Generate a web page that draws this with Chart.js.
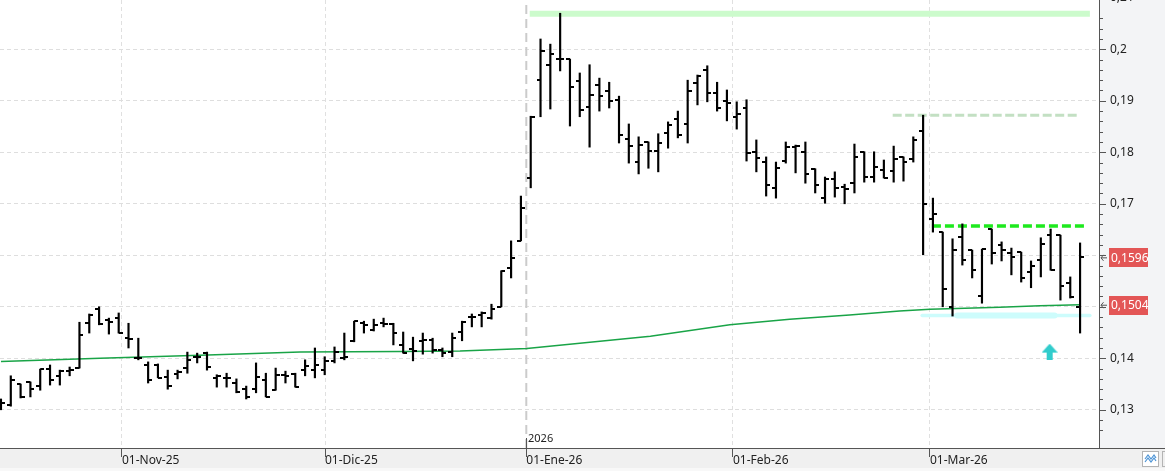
<!DOCTYPE html>
<html><head><meta charset="utf-8">
<script src="https://cdn.jsdelivr.net/npm/chart.js@4.4.1/dist/chart.umd.min.js"></script>
<style>html,body{margin:0;padding:0;background:#fff;overflow:hidden}</style>
</head><body>
<canvas id="c" width="1165" height="471"></canvas>
<script>
// ---- trading days (categories) ----
const dates = [
 '2025-10-15','2025-10-16','2025-10-17','2025-10-20','2025-10-21','2025-10-22','2025-10-23','2025-10-24','2025-10-27','2025-10-28','2025-10-29','2025-10-30','2025-10-31',
 '2025-11-03','2025-11-04','2025-11-05','2025-11-06','2025-11-07','2025-11-10','2025-11-11','2025-11-12','2025-11-13','2025-11-14','2025-11-17','2025-11-18','2025-11-19','2025-11-20','2025-11-21','2025-11-24','2025-11-25','2025-11-26','2025-11-27','2025-11-28',
 '2025-12-01','2025-12-02','2025-12-03','2025-12-04','2025-12-05','2025-12-08','2025-12-09','2025-12-10','2025-12-11','2025-12-12','2025-12-15','2025-12-16','2025-12-17','2025-12-18','2025-12-19','2025-12-22','2025-12-23','2025-12-24','2025-12-29','2025-12-30','2025-12-31',
 '2026-01-02','2026-01-05','2026-01-06','2026-01-07','2026-01-08','2026-01-09','2026-01-12','2026-01-13','2026-01-14','2026-01-15','2026-01-16','2026-01-19','2026-01-20','2026-01-21','2026-01-22','2026-01-23','2026-01-26','2026-01-27','2026-01-28','2026-01-29','2026-01-30',
 '2026-02-02','2026-02-03','2026-02-04','2026-02-05','2026-02-06','2026-02-09','2026-02-10','2026-02-11','2026-02-12','2026-02-13','2026-02-16','2026-02-17','2026-02-18','2026-02-19','2026-02-20','2026-02-23','2026-02-24','2026-02-25','2026-02-26','2026-02-27',
 '2026-03-02','2026-03-03','2026-03-04','2026-03-05','2026-03-06','2026-03-09','2026-03-10','2026-03-11','2026-03-12','2026-03-13','2026-03-16','2026-03-17','2026-03-18','2026-03-19','2026-03-20','2026-03-23'
];
// ---- OHLC series ----
const open = [
 0.1309,0.1309,0.1350,0.1354,0.1346,0.1379,0.1366,0.1375,0.1381,0.1468,
 0.1496,0.1474,0.1478,0.1439,0.1401,0.1387,0.1387,0.1364,0.1370,0.1381,
 0.1403,0.1410,0.1362,0.1362,0.1352,0.1340,0.1340,0.1358,0.1338,0.1368,
 0.1370,0.1377,0.1377,0.1377,0.1395,0.1401,0.1434,0.1468,0.1455,0.1468,
 0.1467,0.1426,0.1418,0.1434,0.1436,0.1416,0.1412,0.1451,0.1480,0.1484,
 0.1478,0.1500,0.1575,0.1628,0.1750,0.1940,0.1969,0.1981,0.1981,0.1938,
 0.1888,0.1931,0.1919,0.1902,0.1826,0.1781,0.1820,0.1802,0.1837,0.1865,
 0.1855,0.1935,0.1960,0.1915,0.1900,0.1869,0.1886,0.1801,0.1781,0.1731,
 0.1783,0.1810,0.1801,0.1768,0.1711,0.1748,0.1733,0.1740,0.1801,0.1752,
 0.1766,0.1764,0.1791,0.1787,0.1841,0.1670,0.1645,0.1500,0.1636,0.1610,
 0.1521,0.1651,0.1620,0.1604,0.1606,0.1568,0.1591,0.1639,0.1639,0.1546,0.1500
];
const high = [
 0.1321,0.1366,0.1350,0.1354,0.1379,0.1387,0.1377,0.1383,0.1470,0.1486,
 0.1500,0.1478,0.1488,0.1468,0.1439,0.1393,0.1389,0.1377,0.1377,0.1412,
 0.1410,0.1412,0.1368,0.1371,0.1360,0.1346,0.1391,0.1371,0.1381,0.1375,
 0.1371,0.1397,0.1420,0.1403,0.1422,0.1449,0.1472,0.1472,0.1476,0.1478,
 0.1468,0.1451,0.1441,0.1449,0.1439,0.1420,0.1449,0.1472,0.1486,0.1490,
 0.1505,0.1570,0.1628,0.1715,0.1870,0.2020,0.2010,0.2070,0.1981,0.1954,
 0.1970,0.1944,0.1936,0.1909,0.1855,0.1830,0.1820,0.1836,0.1859,0.1880,
 0.1940,0.1950,0.1968,0.1936,0.1921,0.1898,0.1902,0.1824,0.1791,0.1781,
 0.1820,0.1814,0.1820,0.1768,0.1752,0.1762,0.1738,0.1816,0.1801,0.1801,
 0.1785,0.1812,0.1791,0.1830,0.1872,0.1711,0.1645,0.1632,0.1661,0.1610,
 0.1612,0.1651,0.1626,0.1614,0.1606,0.1589,0.1634,0.1651,0.1639,0.1558,0.1624
];
const low = [
 0.1300,0.1307,0.1323,0.1325,0.1338,0.1348,0.1348,0.1366,0.1381,0.1449,
 0.1465,0.1447,0.1449,0.1420,0.1397,0.1352,0.1362,0.1340,0.1360,0.1371,
 0.1391,0.1377,0.1344,0.1344,0.1333,0.1321,0.1333,0.1325,0.1338,0.1352,
 0.1344,0.1366,0.1362,0.1368,0.1391,0.1397,0.1432,0.1449,0.1453,0.1461,
 0.1426,0.1410,0.1395,0.1408,0.1410,0.1403,0.1403,0.1434,0.1461,0.1461,
 0.1476,0.1500,0.1556,0.1628,0.1731,0.1869,0.1884,0.1958,0.1851,0.1869,
 0.1810,0.1880,0.1886,0.1818,0.1779,0.1758,0.1769,0.1762,0.1808,0.1828,
 0.1818,0.1892,0.1898,0.1880,0.1861,0.1845,0.1783,0.1762,0.1715,0.1711,
 0.1779,0.1760,0.1740,0.1721,0.1701,0.1713,0.1700,0.1721,0.1742,0.1742,
 0.1750,0.1742,0.1744,0.1781,0.1601,0.1645,0.1500,0.1482,0.1581,0.1556,
 0.1507,0.1583,0.1589,0.1562,0.1548,0.1537,0.1558,0.1571,0.1513,0.1517,0.1449
];
const close = [
 0.1313,0.1358,0.1325,0.1340,0.1379,0.1358,0.1375,0.1377,0.1445,0.1484,
 0.1467,0.1470,0.1449,0.1437,0.1401,0.1358,0.1362,0.1346,0.1373,0.1397,
 0.1403,0.1383,0.1366,0.1362,0.1335,0.1325,0.1364,0.1325,0.1368,0.1366,
 0.1344,0.1385,0.1387,0.1395,0.1412,0.1403,0.1472,0.1465,0.1465,0.1467,
 0.1449,0.1410,0.1414,0.1436,0.1416,0.1410,0.1439,0.1470,0.1480,0.1488,
 0.1496,0.1570,0.1595,0.1692,0.1869,0.1997,0.1991,0.1981,0.1927,0.1882,
 0.1911,0.1909,0.1900,0.1834,0.1812,0.1814,0.1802,0.1818,0.1853,0.1834,
 0.1919,0.1948,0.1915,0.1886,0.1896,0.1874,0.1799,0.1789,0.1737,0.1769,
 0.1810,0.1812,0.1758,0.1737,0.1748,0.1731,0.1729,0.1791,0.1752,0.1771,
 0.1750,0.1787,0.1781,0.1824,0.1700,0.1680,0.1535,0.1610,0.1591,0.1571,
 0.1612,0.1604,0.1610,0.1597,0.1556,0.1579,0.1622,0.1571,0.1540,0.1519,0.1596
];
// ---- moving average (read at points along the line; x = bar index) ----
const maIndex = [0, 10.1, 20.3, 30.5, 40.7, 46.8, 50.9, 53.6, 66.2, 74.3, 80.4, 86.5, 91.6, 94.7, 101.8, 105.9, 110];
const maValue = [0.1394,0.1400,0.1406,0.1412,0.1413,0.1414,0.1417,0.1419,0.1443,0.1465,0.1476,0.1484,0.1492,0.1495,0.1499,0.1502,0.1504];
// ---- axis ticks ----
const monthTickPos = [12.33, 33.03, 53.55, 74.62, 94.70];
const monthTickLabels = ['01-Nov-25','01-Dic-25','01-Ene-26','01-Feb-26','01-Mar-26'];
const yearLabel = '2026';
const yearLinePos = 53.55;
// ---- drawn levels [value, fromIndex, toIndex] ----
const resistanceTop = [0.2069, 53.9, 111.0];
const resistancePale = [0.1872, 90.9, 109.9];
const resistanceGreen = [0.1657, 94.9, 110.8];
const supportCyanThin = [0.1483, 93.9, 111.0];
const supportCyanThick = [0.1483, 97.5, 107.4];
const arrowMark = [106.9, 0.1413];

const Y_MIN = 0.12258, Y_MAX = 0.20957;
const X_MIN = -0.1, X_MAX = 111.93;
const FONT = '"Noto Sans", "Open Sans", sans-serif';

function isMajor(v){ return Math.abs(v*100 - Math.round(v*100)) < 1e-6; }
function isStep(v){ return Math.abs(v*500 - Math.round(v*500)) < 1e-6; }
function fmtAxis(v){ return (+v.toFixed(2)).toString().replace('.', ','); }
function fmt4(v){ return v.toFixed(4).replace('.', ','); }

function tickImg(side){
  const c = document.createElement('canvas'); c.width = 8; c.height = 2;
  const g = c.getContext('2d'); g.fillStyle = '#000';
  if (side === 'L') g.fillRect(0,0,4,2); else g.fillRect(4,0,4,2);
  return c;
}
function arrowImg(){
  const c = document.createElement('canvas'); c.width = 16; c.height = 16;
  const g = c.getContext('2d'); g.fillStyle = '#31cccc';
  g.beginPath(); g.moveTo(8,0); g.lineTo(16,9); g.lineTo(0,9); g.closePath(); g.fill();
  g.fillRect(5,9,6,7);
  return c;
}
function seg(level){ return [{x:level[1], y:level[0]}, {x:level[2], y:level[0]}]; }

const decor = {
  id:'decor',
  beforeDraw(chart){
    const {ctx, width, height, chartArea:a} = chart;
    ctx.save();
    ctx.fillStyle = '#ffffff'; ctx.fillRect(0,0,width,height);
    ctx.fillStyle = '#f3f4f6'; ctx.fillRect(a.right,0,width-a.right,a.bottom);
    ctx.fillStyle = '#f0f0f0'; ctx.fillRect(0,a.bottom,width,height-a.bottom-3);
    ctx.fillStyle = '#f8f8f8'; ctx.fillRect(0,height-3,width,3);
    ctx.restore();
  },
  afterDraw(chart){
    const {ctx, width, chartArea:a} = chart;
    const ys = chart.scales.y, xs = chart.scales.x;
    ctx.save();
    // y tick marks
    ctx.strokeStyle = '#555'; ctx.lineWidth = 1;
    ctx.beginPath();
    ys.ticks.forEach(t => {
      if (!isStep(t.value)) return;
      const py = Math.round(ys.getPixelForValue(t.value)) + 0.5;
      ctx.moveTo(a.right, py); ctx.lineTo(a.right + (isMajor(t.value) ? 7 : 4), py);
    });
    ctx.stroke();
    // partially visible top label
    ctx.fillStyle = '#222'; ctx.font = '12px ' + FONT; ctx.textBaseline = 'middle'; ctx.textAlign = 'left';
    ctx.fillText(fmtAxis(0.21), a.right + 11, ys.getPixelForValue(0.21));
    // full-width bottom axis line
    ctx.strokeStyle = '#555'; ctx.beginPath();
    ctx.moveTo(0, a.bottom + 0.5); ctx.lineTo(width, a.bottom + 0.5); ctx.stroke();
    // year label
    const yx = Math.round(xs.getPixelForValue(yearLinePos)) + 0.5;
    ctx.beginPath(); ctx.moveTo(yx, a.bottom - 10); ctx.lineTo(yx, a.bottom); ctx.stroke();
    ctx.fillStyle = '#222'; ctx.font = '11px ' + FONT;
    ctx.fillText(yearLabel, yx + 1.5, a.bottom - 9);
    // price tags
    const tags = [close[close.length-1], maValue[maValue.length-1]];
    tags.forEach(v => {
      const py = ys.getPixelForValue(v);
      ctx.fillStyle = '#e35656';
      ctx.fillRect(a.right + 10, Math.round(py - 9), 39, 19);
      ctx.fillStyle = '#ffffff'; ctx.font = '12px ' + FONT;
      ctx.fillText(fmt4(v), a.right + 12, py + 1);
      ctx.strokeStyle = '#555'; ctx.lineWidth = 1;
      ctx.beginPath();
      ctx.moveTo(a.right + 2, py + 0.5); ctx.lineTo(a.right + 8, py + 0.5);
      ctx.moveTo(a.right + 4.5, py - 2.5); ctx.lineTo(a.right + 2, py + 0.5); ctx.lineTo(a.right + 4.5, py + 3.5);
      ctx.stroke();
    });
    // small icon box bottom-right
    ctx.fillStyle = '#ffffff'; ctx.strokeStyle = '#b4b4b4';
    ctx.fillRect(1142.5, 451.5, 16, 15); ctx.strokeRect(1142.5, 451.5, 16, 15);
    ctx.strokeRect(1162.5, 451.5, 8, 15);
    ctx.strokeStyle = '#4d94d6'; ctx.lineWidth = 1.2;
    ctx.beginPath();
    ctx.moveTo(1145, 459); ctx.lineTo(1148, 455); ctx.lineTo(1151, 459); ctx.lineTo(1154, 455); ctx.lineTo(1156, 458);
    ctx.moveTo(1145, 462); ctx.lineTo(1148, 458); ctx.lineTo(1151, 462); ctx.lineTo(1154, 458); ctx.lineTo(1156, 461);
    ctx.stroke();
    ctx.restore();
  }
};

const idx = open.map((_, i) => i);
const lineBase = {type:'line', pointRadius:0, borderCapStyle:'butt', tension:0, fill:false};

new Chart(document.getElementById('c'), {
  type:'bar',
  data:{
    datasets:[
      {type:'bar', label:'range', data: idx.map(i => ({x:i, y:[low[i], high[i]]})), backgroundColor:'#000', barThickness:1.5, order:0},
      {type:'scatter', label:'open', data: idx.map(i => ({x:i, y:open[i]})), pointStyle:tickImg('L'), pointRadius:3, order:0},
      {type:'scatter', label:'close', data: idx.map(i => ({x:i, y:close[i]})), pointStyle:tickImg('R'), pointRadius:3, order:0},
      {...lineBase, label:'ma', data: maIndex.map((x,i) => ({x, y:maValue[i]})), borderColor:'#19a447', borderWidth:1.5, order:2},
      {...lineBase, label:'top', data: seg(resistanceTop), borderColor:'#ccfbcc', borderWidth:6, order:3},
      {...lineBase, label:'pale', data: seg(resistancePale), borderColor:'#c3e0c3', borderWidth:3, borderDash:[9,3.5], order:3},
      {...lineBase, label:'green', data: seg(resistanceGreen), borderColor:'#1ee91e', borderWidth:3.5, borderDash:[9,4], order:3},
      {...lineBase, label:'cyanThin', data: seg(supportCyanThin), borderColor:'#cdfcfc', borderWidth:3.5, borderCapStyle:'round', order:3},
      {...lineBase, label:'cyanThick', data: seg(supportCyanThick), borderColor:'#cdfcfc', borderWidth:6, borderCapStyle:'round', order:3},
      {type:'scatter', label:'arrow', data:[{x:arrowMark[0], y:arrowMark[1]}], pointStyle:arrowImg(), pointRadius:8, order:1},
      {...lineBase, label:'year', data:[{x:yearLinePos, y:Y_MIN}, {x:yearLinePos, y:Y_MAX}], borderColor:'#cbcbcb', borderWidth:2, borderDash:[9,5], order:9}
    ]
  },
  options:{
    responsive:false, animation:false, devicePixelRatio:1, events:[],
    layout:{padding:0, autoPadding:false},
    plugins:{legend:{display:false}, tooltip:{enabled:false}},
    scales:{
      x:{type:'linear', min:X_MIN, max:X_MAX, offset:false,
        afterBuildTicks: s => { s.ticks = monthTickPos.map(v => ({value:v})); },
        afterFit: s => { s.height = 23; s.paddingLeft = 0; s.paddingRight = 0; },
        ticks:{callback:(v,i) => monthTickLabels[i], align:'start', maxRotation:0, autoSkip:false, padding:-4, font:{family:FONT, size:12}, color:'#222'},
        grid:{offset:false, color: c => (c.index === 2 ? 'rgba(0,0,0,0)' : '#e0e0e0'), tickLength:9, tickColor:'#555', tickBorderDash:[], tickWidth:1},
        border:{display:true, color:'#555', dash:[4,3]}
      },
      y:{position:'right', min:Y_MIN, max:Y_MAX,
        afterFit: s => { s.width = 66; s.paddingTop = 0; s.paddingBottom = 0; },
        ticks:{stepSize:0.002, autoSkip:false, padding:11, callback: v => (isMajor(v) ? fmtAxis(v) : ''), font:{family:FONT, size:12}, color:'#222'},
        grid:{drawTicks:false, color: c => (c.tick && isMajor(c.tick.value) ? '#dedede' : 'rgba(0,0,0,0)')},
        border:{display:true, color:'#555', dash:[4,3]}
      }
    }
  },
  plugins:[decor]
});
</script>
</body></html>
